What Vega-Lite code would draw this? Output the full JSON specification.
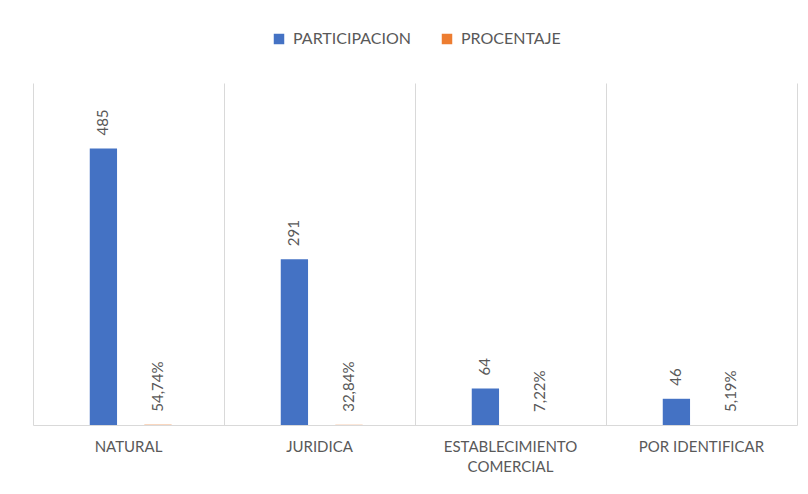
{
  "$schema": "https://vega.github.io/schema/vega-lite/v6.json",
  "width": 764,
  "height": 342,
  "autosize": {"type": "none"},
  "padding": {"left": 33, "top": 83, "right": 11, "bottom": 69},
  "background": "white",
  "config": {
    "view": {"stroke": null},
    "font": "Lato",
    "text": {"font": "Lato"}
  },
  "datasets": {
    "valores": [
      {"categoria": "NATURAL", "serie": "PARTICIPACION", "valor": 485, "etiqueta": "485"},
      {"categoria": "NATURAL", "serie": "PROCENTAJE", "valor": 0.5474, "etiqueta": "54,74%"},
      {"categoria": "JURIDICA", "serie": "PARTICIPACION", "valor": 291, "etiqueta": "291"},
      {"categoria": "JURIDICA", "serie": "PROCENTAJE", "valor": 0.3284, "etiqueta": "32,84%"},
      {"categoria": "ESTABLECIMIENTO COMERCIAL", "serie": "PARTICIPACION", "valor": 64, "etiqueta": "64"},
      {"categoria": "ESTABLECIMIENTO COMERCIAL", "serie": "PROCENTAJE", "valor": 0.0722, "etiqueta": "7,22%"},
      {"categoria": "POR IDENTIFICAR", "serie": "PARTICIPACION", "valor": 46, "etiqueta": "46"},
      {"categoria": "POR IDENTIFICAR", "serie": "PROCENTAJE", "valor": 0.0519, "etiqueta": "5,19%"}
    ],
    "categorias": [
      {"categoria": "NATURAL", "nombre": "NATURAL"},
      {"categoria": "JURIDICA", "nombre": "JURIDICA"},
      {"categoria": "ESTABLECIMIENTO COMERCIAL", "nombre": "ESTABLECIMIENTO\nCOMERCIAL"},
      {"categoria": "POR IDENTIFICAR", "nombre": "POR IDENTIFICAR"}
    ]
  },
  "layer": [
    {
      "data": {"name": "valores"},
      "mark": {"type": "bar"},
      "encoding": {
        "x": {
          "field": "categoria",
          "type": "nominal",
          "sort": ["NATURAL", "JURIDICA", "ESTABLECIMIENTO COMERCIAL", "POR IDENTIFICAR"],
          "scale": {"paddingInner": 0, "paddingOuter": 0},
          "axis": {
            "title": null,
            "labels": false,
            "ticks": false,
            "tickBand": "extent",
            "grid": true,
            "gridColor": "#d9d9d9",
            "gridWidth": 1,
            "domainColor": "#d9d9d9",
            "domainWidth": 1
          }
        },
        "xOffset": {
          "field": "serie",
          "type": "nominal",
          "scale": {"paddingInner": 0.5, "paddingOuter": 1.087, "align": 0.52}
        },
        "y": {
          "field": "valor",
          "type": "quantitative",
          "scale": {"domain": [0, 600]},
          "axis": null
        },
        "color": {
          "field": "serie",
          "type": "nominal",
          "scale": {"domain": ["PARTICIPACION", "PROCENTAJE"], "range": ["#4472C4", "#ED7D31"]},
          "legend": {
            "title": null,
            "orient": "none",
            "direction": "horizontal",
            "legendX": 238,
            "legendY": -52,
            "symbolType": "square",
            "symbolSize": 110,
            "symbolStrokeWidth": 0,
            "labelFontSize": 16,
            "labelColor": "#595959",
            "labelFont": "Lato",
            "labelLimit": 0,
            "columnPadding": 28,
            "labelOffset": 6
          }
        }
      }
    },
    {
      "data": {"name": "valores"},
      "mark": {"type": "text", "angle": -90, "align": "left", "baseline": "middle", "dx": 13, "fontSize": 15, "color": "#595959"},
      "encoding": {
        "x": {"field": "categoria", "type": "nominal", "sort": ["NATURAL", "JURIDICA", "ESTABLECIMIENTO COMERCIAL", "POR IDENTIFICAR"]},
        "xOffset": {"field": "serie", "type": "nominal"},
        "y": {"field": "valor", "type": "quantitative"},
        "text": {"field": "etiqueta"}
      }
    },
    {
      "data": {"name": "categorias"},
      "mark": {"type": "text", "align": "center", "baseline": "top", "dy": 15, "fontSize": 15, "lineBreak": "\n", "lineHeight": 20, "color": "#595959"},
      "encoding": {
        "x": {"field": "categoria", "type": "nominal", "sort": ["NATURAL", "JURIDICA", "ESTABLECIMIENTO COMERCIAL", "POR IDENTIFICAR"]},
        "y": {"datum": 0, "type": "quantitative"},
        "text": {"field": "nombre"}
      }
    }
  ]
}
